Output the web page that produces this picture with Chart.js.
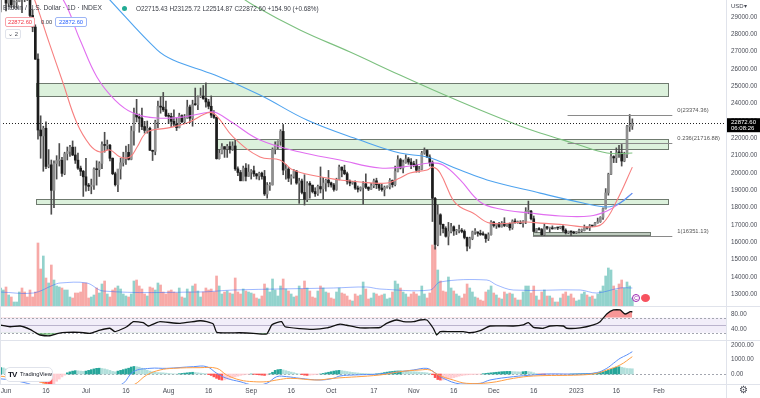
<!DOCTYPE html>
<html>
<head>
<meta charset="utf-8">
<script src="https://cdn.jsdelivr.net/npm/chart.js@4.4.0/dist/chart.umd.min.js"></script>
<style>
  html, body { margin: 0; padding: 0; background: #fff; }
  #wrap { position: relative; width: 760px; height: 398px; overflow: hidden; font-family: "Liberation Sans", Arial, sans-serif; }
  #chart { position: absolute; left: 0; top: 0; }
  .t { position: absolute; white-space: nowrap; color: #434651; line-height: 1; }
  .box { position: absolute; box-sizing: border-box; border-radius: 2px; font-size: 5.8px; line-height: 8px; text-align: center; background: #fff; }
</style>
</head>
<body>
<div id="wrap">
  <canvas id="chart" width="760" height="398"></canvas>

  <div class="t" style="left:3px;top:5px;font-size:6.7px;color:#3a3d46">Bitcoin / U.S. Dollar · 1D · INDEX</div>
  <div style="position:absolute;left:122px;top:5.5px;width:5px;height:5px;border-radius:50%;background:#22ab94"></div>
  <div class="t" style="left:136px;top:5.5px;font-size:6.4px;color:#3a3d46">O22715.43 H23125.72 L22514.87 C22872.60 +154.90 (+0.68%)</div>
  <div class="box" style="left:5px;top:17px;width:30px;height:10px;border:1px solid #f7a3aa;color:#f23645">22872.60</div>
  <div class="t" style="left:41px;top:19.5px;font-size:5.8px;color:#3a3d46">0.00</div>
  <div class="box" style="left:55px;top:17px;width:32px;height:10px;border:1px solid #9db5f5;color:#2962ff">22872.60</div>
  <div class="box" style="left:5px;top:29px;width:16px;height:10px;border:1px solid #e0e3eb;color:#434651">&#8964; 2</div>

  <div class="t" style="left:731px;top:3px;font-size:6px;color:#434651">USD&#9662;</div>

  <div style="position:absolute;left:5px;top:367px;width:48px;height:15px;box-sizing:border-box;border:1px solid #e0e3eb;border-radius:5px;background:#fff"></div>
  <div class="t" style="left:8px;top:370.5px;font-size:8px;font-weight:bold;color:#131722;letter-spacing:-1px">TV</div>
  <div class="t" style="left:20px;top:372px;font-size:5.8px;color:#131722">TradingView</div>
  <div class="t" style="left:739px;top:385px;font-size:10px;color:#434651">&#9881;</div>

  <div style="position:absolute;left:632px;top:294px;width:8px;height:8px;box-sizing:border-box;border:1px solid #9c27b0;border-radius:50%;background:#fff;font-size:5px;line-height:6px;text-align:center;color:#9c27b0">C</div>
  <div style="position:absolute;left:641px;top:294px;width:9px;height:8px;border-radius:50%;background:#f7525f"></div>
</div>
<script>
// daily candles from 2022-05-30, one row per day: open, high, low, close
const FIRST_DAY = '2022-05-30';
const ohlc = [
  // May 30-31
  [29440,31950,29300,31720],[31720,32250,31220,31790],
  // Jun
  [31790,31950,29350,29800],[29800,30630,29600,30450],[30450,30650,29530,29700],[29700,29950,29500,29860],[29860,30150,29500,29900],
  [29900,31700,29880,31370],[31370,31550,29250,31130],[31130,31320,29880,30200],[30200,30650,29950,30110],[30110,30300,28900,29090],
  [29090,29430,28150,28420],[28420,28550,26550,26570],[26570,26880,21950,22480],[22480,23300,20850,22140],[22140,22700,20100,22580],
  [22580,22950,20250,20380],[20380,21350,20300,20470],[20470,20750,17620,19000],[19000,20700,18000,20550],[20550,21000,19650,20720],
  [20720,21700,20400,20730],[20730,20900,19800,19980],[19980,21200,19900,21110],[21110,21500,20750,21240],[21240,21600,20950,21490],
  [21490,21850,21000,21040],[21040,21500,20550,20740],[20740,21150,20200,20280],[20280,20400,19850,20100],[20100,20150,18650,19780],
  // Jul
  [19780,20850,18950,19300],[19300,19400,18980,19230],[19230,19650,18800,19300],[19300,20300,19050,20230],[20230,20700,19300,20190],
  [20190,20650,19800,20550],[20550,21800,20250,21640],[21640,22350,21200,21590],[21590,21900,21350,21600],[21600,21650,20700,20850],
  [20850,20870,19900,19960],[19960,20050,19250,19330],[19330,20200,18920,20230],[20230,20850,19650,20590],[20590,21200,20400,20830],
  [20830,21550,20500,21190],[21190,21650,20750,20790],[20790,22700,20760,22430],[22430,23750,21600,23400],[23400,24250,22950,23230],
  [23230,23400,22350,23160],[23160,23750,22500,22680],[22680,22980,22300,22460],[22460,23000,22300,22580],[22580,22650,21300,21310],
  [21310,21320,20720,21250],[21250,23050,21050,22950],[22950,24150,22600,23840],[23840,24400,23450,23800],[23800,24650,23550,23650],
  [23650,24150,23250,23300],
  // Aug
  [23300,23450,22850,23270],[23270,23450,22680,22980],[22980,23650,22700,22820],[22820,23200,22450,22620],[22620,23450,22600,23310],
  [23310,23350,22900,22960],[22960,23380,22850,23180],[23180,24200,23150,23810],[23810,23920,22900,23160],[23160,24200,22700,23950],
  [23950,24900,23900,23940],[23940,24450,23650,24400],[24400,24900,24350,24440],[24440,25050,24250,24300],[24300,25200,23800,24100],
  [24100,24250,23700,23850],[23850,24450,23200,23340],[23340,23600,23150,23210],[23210,23220,20800,20830],[20830,21350,20800,21140],
  [21140,21700,21100,21520],[21520,21520,20900,21400],[21400,21650,20900,21530],[21530,21800,21150,21370],[21370,21800,21300,21560],
  [21560,21900,20150,20240],[20240,20350,19850,20030],[20030,20150,19550,19550],[19550,20400,19550,20280],[20280,20550,19550,19810],
  [19810,20480,19800,20050],
  // Sep
  [20050,20200,19650,20130],[20130,20400,19800,19950],[19950,19970,19650,19830],[19830,20050,19600,19990],[19990,20050,19650,19800],
  [19800,20150,18700,18790],[18790,19450,18550,19290],[19290,19450,19000,19320],[19320,21450,19300,21370],[21370,21800,21100,21650],
  [21650,21850,21400,21830],[21830,22500,21600,22400],[22400,22800,19900,20170],[20170,20500,19650,20230],[20230,20330,19500,19700],
  [19700,19900,19350,19800],[19800,20200,19700,20110],[20110,20150,19350,19420],[19420,19700,18250,19540],[19540,19650,18800,18880],
  [18880,19900,18150,18480],[18480,19500,18350,19400],[19400,19500,18550,19300],[19300,19300,18850,18930],[18930,19150,18650,18800],
  [18800,19300,18700,19220],[19220,20350,18850,19080],[19080,19750,18500,19420],[19420,19650,18950,19590],[19590,20150,19200,19430],
  // Oct
  [19430,19470,19180,19310],[19310,19400,18950,19050],[19050,19700,19000,19630],[19630,20450,19600,20340],[20340,20350,19780,20160],
  [20160,20450,19900,19960],[19960,20050,19350,19530],[19530,19600,19260,19420],[19420,19520,19350,19440],[19440,19550,19050,19130],
  [19130,19250,18900,19060],[19060,19200,18960,19160],[19160,19500,18200,19380],[19380,19950,19100,19180],[19180,19200,18980,19070],
  [19070,19400,19060,19270],[19270,19650,19150,19550],[19550,19700,19100,19330],[19330,19350,19000,19130],[19130,19350,18950,19040],
  [19040,19250,18680,19170],[19170,19260,19130,19210],[19210,19680,19080,19570],[19570,19600,19180,19330],[19330,20400,19250,20090],
  [20090,21000,20060,20770],[20770,20850,20230,20290],[20290,20750,20000,20600],[20600,21050,20560,20810],[20810,20900,20500,20630],
  [20630,20830,20250,20490],
  // Nov
  [20490,20680,20350,20480],[20480,20780,20050,20160],[20160,20380,20050,20210],[20210,21250,20180,21150],[21150,21450,21080,21300],
  [21300,21350,20900,20920],[20920,21050,20400,20600],[20600,20700,17200,18540],[18540,18600,15600,15880],[15880,18150,15800,17590],
  [17590,17650,16400,17040],[17040,17050,16550,16800],[16800,16900,16300,16350],[16350,17150,15850,16620],[16620,17100,16550,16900],
  [16900,16950,16400,16660],[16660,16750,16450,16690],[16690,17000,16550,16700],[16700,16800,16550,16630],[16630,16720,16200,16280],
  [16280,16300,15500,15780],[15780,16300,15650,16220],[16220,16650,16150,16600],[16600,16800,16450,16600],[16600,16600,16350,16520],
  [16520,16700,16400,16460],[16460,16600,16400,16440],[16440,16480,16000,16220],[16220,16550,16100,16440],[16440,17250,16420,17170],
  // Dec
  [17170,17200,16880,16970],[16970,17100,16800,17090],[17090,17150,16870,16890],[16890,17200,16880,17110],[17110,17420,16900,16970],
  [16970,17100,16920,17090],[17090,17120,16700,16840],[16840,17300,16750,17230],[17230,17350,17100,17130],[17130,17230,17100,17130],
  [17130,17250,17070,17090],[17090,17250,16880,17210],[17210,18000,17080,17780],[17780,18380,17650,17800],[17800,17850,17300,17360],
  [17360,17520,16600,16630],[16630,16800,16580,16780],[16780,16850,16700,16740],[16740,16800,16400,16440],[16440,17050,16400,16900],
  [16900,16920,16750,16820],[16820,16870,16600,16830],[16830,16950,16760,16780],[16780,16860,16770,16840],[16840,16870,16730,16830],
  [16830,16930,16780,16920],[16920,16960,16600,16700],[16700,16780,16480,16550],[16550,16650,16500,16630],[16630,16650,16351,16600],
  [16600,16640,16500,16540],
  // Jan
  [16540,16630,16500,16620],[16620,16770,16550,16680],[16680,16770,16600,16680],[16680,17000,16660,16850],[16850,16880,16760,16830],
  [16830,17030,16680,16950],[16950,16960,16900,16940],[16940,17160,16920,17120],[17120,17400,17100,17190],[17190,17480,17150,17440],
  [17440,17990,17320,17940],[17940,19100,17920,18850],[18850,19990,18720,19930],[19930,21250,19900,20950],[20950,21000,20600,20870],
  [20870,21450,20600,21170],[21170,21600,20900,21160],[21160,21650,20400,20690],[20690,21200,20650,21070],[21070,22750,20880,22680],
  [22680,23374.36,22400,22715.43],[22715.43,23125.72,22514.87,22872.60]
];

// daily volume (k BTC), same days as ohlc
const volume = [
  18,16,19,11,9,4,4,14,18,14,9,16,9,14,
  63,37,50,28,23,41,26,
  20,19,18,16,16,9,8,13,13,14,23,
  23,8,9,11,18,13,22,25,12,9,16,
  18,20,17,12,10,9,12,25,26,20,
  17,12,10,19,18,16,23,21,14,12,
  15,16,14,13,18,9,8,17,14,20,
  22,15,9,14,18,16,17,14,30,20,
  12,14,15,13,12,28,14,12,17,15,
  14,13,12,8,7,10,22,18,14,27,
  16,10,20,27,17,15,12,9,10,20,
  17,25,18,15,9,8,15,20,18,14,
  13,8,7,14,18,13,12,10,6,5,
  12,10,11,24,17,7,8,13,12,10,
  11,12,7,8,14,25,22,18,14,12,
  9,12,14,12,10,20,12,8,13,61,
  59,36,25,15,14,29,18,15,12,10,
  8,12,22,18,14,9,8,6,5,14,
  16,20,13,11,8,7,14,12,13,12,
  8,6,6,14,20,20,13,20,10,6,
  14,16,10,10,8,4,4,8,12,14,
  10,12,8,5,6,12,14,11,9,10,
  7,12,15,20,30,38,36,20,16,22,
  26,18,24,20,8
];

// MACD histogram, same days as ohlc
const macdHist = [
  450,420,350,280,200,120,60,-40,-80,-120,-150,-180,-200,-220,
  -420,-560,-620,-680,-720,-760,-700,
  -500,-350,-200,-80,80,150,200,230,220,200,180,
  200,250,300,350,390,400,380,350,300,250,180,
  150,200,250,300,350,400,480,520,500,470,
  400,330,260,200,150,120,100,90,80,60,
  40,20,10,0,20,40,60,80,100,120,
  100,80,60,40,20,-40,-100,-200,-300,-380,
  -420,-400,-350,-300,-250,-200,-150,-100,-60,-30,
  -10,0,-20,-40,-60,-80,-100,-60,20,120,
  250,300,320,280,230,180,130,90,40,0,
  -40,-80,-100,-80,-60,-40,-20,0,40,80,
  120,160,200,230,250,230,200,170,140,110,
  90,70,50,40,30,20,10,0,10,20,
  60,100,130,160,180,200,210,210,200,190,
  180,170,160,150,130,110,100,80,40,-50,
  -250,-380,-420,-410,-380,-340,-300,-250,-200,-150,
  -110,-80,-60,-50,-40,-30,-20,-10,20,40,
  60,80,100,120,140,160,170,180,180,170,
  160,150,140,160,180,170,140,80,30,-10,
  -20,-30,-30,-25,-20,-15,-10,-10,-10,-8,
  -5,0,5,10,15,20,25,30,40,50,
  60,80,120,160,200,260,330,400,470,500,
  460,420,380,370,360
];

// indicator lines: [day from Jun 1, value]
const maRed = [[4,32000],[9,30670],[16.5,27380],[21.4,25190],[26.6,22880],[31.5,21610],[35.3,21210],[39,21330],[42.8,20920],[46.5,20920],[49.2,21500],[52.9,22360],[60.4,22590],[67.9,22880],[75.4,23460],[77.7,23460],[80.3,23060],[85.2,22080],[95.3,20920],[102.8,20750],[107.7,20170],[120.5,19710],[132.8,19480],[143,19420],[147.8,19710],[151.6,20000],[158,20170],[160.2,20340],[162.9,20000],[167.7,18440],[170.4,18040],[175.2,17690],[181.6,17110],[195.5,17170],[200.4,17110],[210.5,17000],[219.1,16880],[224,17110],[229.3,18440],[235,20340]];
const maPink = [[10,31500],[20.3,30270],[27.8,27670],[34.1,25540],[40.9,24210],[47.7,23460],[56.7,23170],[66.4,23230],[76.5,23520],[79.2,23460],[85.2,22880],[95.3,21900],[110.3,21210],[125.3,20750],[140.3,20290],[151.6,20400],[159.1,20580],[164,20460],[170.4,19600],[177.9,18330],[185.4,17920],[196.6,17690],[207.9,17520],[219.1,17520],[225.5,17810],[229.3,18150],[235,18840]];
const maBlue = [[30,31500],[39,29980],[56.7,27100],[62.7,26520],[78.4,25650],[95.3,24500],[112.9,23060],[132.8,21900],[147.8,21150],[158,20920],[170.4,20170],[180.5,19600],[200.4,18840],[216.5,18270],[225.5,18040],[230.4,18270],[235,18840]];
const maGreen = [[85,30500],[92.7,29690],[110.3,28250],[129.1,26980],[147.8,25650],[162.9,24610],[177.9,23630],[192.9,22710],[200.4,22310],[212.8,21730],[225.5,21150],[235,21150]];
const volMA = [[-2.25,14],[10.3,13],[17.8,21],[20.3,23],[30.3,23],[36.5,15],[72.8,14],[85.3,16],[122.8,18],[135.3,19],[140.3,17],[159.1,16],[162.9,24],[180.4,26],[184.1,21],[190.3,16],[215.4,16],[221.6,13],[230.4,18],[235,18]];
const rsi = [[-2.25,50.7],[1.5,46],[5.3,48],[9,39],[11.5,28.5],[12.8,24],[16.5,22],[19.6,28.5],[22.8,31],[27.8,31],[31.5,28.5],[35.3,37],[39,42],[40.9,33],[45.3,46],[47.8,59.5],[51.5,57],[53.4,48],[55.9,55],[57.8,59.5],[65.3,55],[72.8,62],[75.3,59.5],[77.8,53],[79.1,31],[87.8,30],[92.8,28.5],[97.8,26.7],[99.7,50.7],[101.6,57],[103.4,59.5],[104.7,46],[110.3,41],[115.3,39],[120.3,43],[125.3,53],[127.8,50],[132.8,43],[140.3,44],[142.8,55],[146.6,64],[149.1,59.5],[152.9,59.5],[155.3,64],[157.9,64],[160.3,42],[161.6,24],[162.9,33],[166.6,33],[171.6,33],[174.1,30],[177.9,35.5],[181.6,48],[190.4,48],[194.1,51],[196,57],[197.9,44.5],[201.6,42],[204.1,48],[209.1,48],[210.4,42],[215.4,43],[220.4,51],[222.9,59.5],[225.4,80],[227.9,90.7],[230.4,90.7],[232.3,80],[234.2,86],[235,86]];
const macdLine = [[-2.25,-330],[2,-414],[8,-644],[10,-800],[15,-1500],[22,-1800],[32,-1300],[40,-900],[44,-644],[47.8,161],[54,391],[60.3,391],[70.3,506],[75.3,506],[79.1,46],[82.8,-299],[87.8,-529],[92.8,-759],[97.8,-644],[101.6,-184],[105.3,-184],[110.3,-299],[117.8,-414],[122.8,-299],[125.3,-138],[130.3,-69],[140.3,0],[147.8,161],[152.8,276],[157.9,391],[160.3,161],[164.1,-299],[170.4,-690],[177.9,-644],[181.6,-414],[190.4,-184],[197.9,-69],[202.9,0],[215.4,0],[221.6,92],[225.4,391],[227.9,736],[230.4,1080],[232.9,1310],[235,1540]];
const signalLine = [[-2.25,-150],[5,-300],[12,-500],[20,-1000],[30,-1300],[40,-1100],[47.8,-759],[52.8,-69],[57.8,276],[62.8,391],[72.8,437],[79.1,391],[82.8,-69],[87.8,-414],[92.8,-529],[97.8,-529],[101.6,-414],[106.6,-299],[116.6,-414],[122.8,-299],[140.3,-69],[147.8,161],[155.3,276],[159.1,276],[162.2,-69],[167.8,-414],[172.8,-644],[181.6,-598],[190.4,-299],[197.9,-138],[215.4,-69],[221.6,46],[225.4,276],[230.4,620],[235,1195]];

// drawn levels: [from day, to day, low, high]
const zones = [[11.3,248.4,24450,25200],[79.2,248.4,21380,21960],[11.3,248.4,18230,18500]];
const baseZone = [197.7,241.6,16400,16600];
const fibs = [['0(23374.36)',23374.36,210.7],['0.236(21716.88)',21716.88,210.7],['1(16351.13)',16351.13,197.7]];
const FIB_END = 250;
const lastPrice = 22872.60;
const countdown = '06:08:26';

const priceTicks = [13000,14000,15000,16000,17000,18000,19000,20000,21000,22000,23000,24000,25000,26000,27000,28000,29000];
const rsiTicks = [40, 80];
const rsiBand = [30, 70];
const macdTicks = [0, 1000, 2000];
const dateTicks = [['2022-06-01','Jun'],['2022-06-16','16'],['2022-07-01','Jul'],['2022-07-16','16'],['2022-08-01','Aug'],['2022-08-16','16'],
  ['2022-09-01','Sep'],['2022-09-16','16'],['2022-10-01','Oct'],['2022-10-17','17'],['2022-11-01','Nov'],['2022-11-16','16'],
  ['2022-12-01','Dec'],['2022-12-16','16'],['2023-01-01','2023'],['2023-01-16','16'],['2023-02-01','Feb']];

function dayOf(s) {
  return (Date.parse(s + 'T00:00:00Z') - Date.parse('2022-06-01T00:00:00Z')) / 864e5;
}
const day0 = dayOf(FIRST_DAY);
const days = ohlc.map((r, i) => day0 + i);
const isUp = ohlc.map(r => r[3] >= r[0]);
const tickLabel = {};
dateTicks.forEach(t => { tickLabel[dayOf(t[0])] = t[1]; });
const pts = arr => arr.map(p => ({x: p[0], y: p[1]}));

const histColors = macdHist.map((v, i) => {
  const prev = i ? macdHist[i - 1] : v;
  if (v >= 0) return v >= prev ? '#26a69a' : '#b2dfdb';
  return v < prev ? '#ff5252' : '#ffcdd2';
});

Chart.defaults.font.family = '"Liberation Sans", Arial, sans-serif';

function noPad(s) { s.paddingTop = 0; s.paddingBottom = 0; s.paddingLeft = 0; s.paddingRight = 0; }

const paneDecor = {
  id: 'paneDecor',
  beforeDatasetsDraw(chart) {
    const {ctx, chartArea: a, scales} = chart;
    const x = scales.x, y = scales.y, r = scales.yRsi, m = scales.yMacd;
    ctx.save();
    // RSI band and levels
    const bTop = r.getPixelForValue(rsiBand[1]), bBot = r.getPixelForValue(rsiBand[0]);
    ctx.fillStyle = 'rgba(126,87,194,0.1)';
    ctx.fillRect(a.left, bTop, a.width, bBot - bTop);
    ctx.lineWidth = 1;
    ctx.strokeStyle = '#a3a6af';
    ctx.setLineDash([2, 2]);
    [bTop, bBot].forEach(py => {
      ctx.beginPath(); ctx.moveTo(a.left, Math.round(py) + 0.5); ctx.lineTo(a.right, Math.round(py) + 0.5); ctx.stroke();
    });
    const z0 = Math.round(m.getPixelForValue(0)) + 0.5;
    ctx.beginPath(); ctx.moveTo(a.left, z0); ctx.lineTo(a.right, z0); ctx.stroke();
    ctx.setLineDash([]);
    ctx.strokeStyle = 'rgba(120,110,150,0.45)';
    const mid = Math.round(r.getPixelForValue(50)) + 0.5;
    ctx.beginPath(); ctx.moveTo(a.left, mid); ctx.lineTo(a.right, mid); ctx.stroke();

    // price zones
    const drawZone = (z, fill) => {
      const x0 = Math.round(x.getPixelForValue(z[0])) + 0.5, x1 = Math.round(x.getPixelForValue(z[1])) + 0.5;
      const y0 = Math.round(y.getPixelForValue(z[3])) + 0.5, y1 = Math.round(y.getPixelForValue(z[2])) + 0.5;
      ctx.fillStyle = fill;
      ctx.fillRect(x0, y0, x1 - x0, y1 - y0);
      ctx.strokeStyle = '#6f7a6f';
      ctx.strokeRect(x0, y0, x1 - x0, y1 - y0);
    };
    zones.forEach(z => drawZone(z, 'rgba(196,232,196,0.6)'));
    drawZone(baseZone, 'rgba(170,186,170,0.75)');
    ctx.restore();
  },
  afterDatasetsDraw(chart) {
    const {ctx, chartArea: a, scales} = chart;
    const x = scales.x, y = scales.y;
    ctx.save();
    // fib levels
    ctx.strokeStyle = '#8a8a8a';
    ctx.lineWidth = 1;
    ctx.fillStyle = '#555';
    ctx.font = '5.8px "Liberation Sans", Arial, sans-serif';
    ctx.textBaseline = 'bottom';
    const xe = x.getPixelForValue(FIB_END);
    fibs.forEach(f => {
      const py = Math.round(y.getPixelForValue(f[1])) + 0.5;
      ctx.beginPath(); ctx.moveTo(x.getPixelForValue(f[2]), py); ctx.lineTo(xe, py); ctx.stroke();
      ctx.fillText(f[0], xe + 5, py - 2);
    });
    // last price dotted line
    const lp = Math.round(y.getPixelForValue(lastPrice)) + 0.5;
    ctx.strokeStyle = '#222';
    ctx.setLineDash([1, 2]);
    ctx.beginPath(); ctx.moveTo(a.left, lp); ctx.lineTo(a.right, lp); ctx.stroke();
    ctx.restore();
  },
  afterDraw(chart) {
    const {ctx, chartArea: a, scales} = chart;
    const y = scales.y;
    ctx.save();
    ctx.strokeStyle = '#e0e3eb';
    ctx.lineWidth = 1;
    [scales.yRsi.top, scales.yMacd.top, a.bottom].forEach(py => {
      const yy = Math.round(py) + 0.5;
      ctx.beginPath(); ctx.moveTo(0, yy); ctx.lineTo(chart.width, yy); ctx.stroke();
    });
    ctx.beginPath(); ctx.moveTo(Math.round(a.right) + 0.5, 0); ctx.lineTo(Math.round(a.right) + 0.5, chart.height); ctx.stroke();
    ctx.beginPath(); ctx.moveTo(0.5, 0); ctx.lineTo(0.5, a.bottom); ctx.stroke();
    // last price tag
    const lp = y.getPixelForValue(lastPrice);
    ctx.fillStyle = '#000';
    ctx.fillRect(a.right + 1, lp - 5, chart.width - a.right - 1, 14);
    ctx.fillStyle = '#fff';
    ctx.font = '6px "Liberation Sans", Arial, sans-serif';
    ctx.textBaseline = 'middle';
    ctx.fillText(lastPrice.toFixed(2), a.right + 5, lp - 0.5);
    ctx.fillText(countdown, a.right + 5, lp + 5.5);
    ctx.restore();
  }
};

const tickFont = {size: 6.3};
const tickColor = '#4a4d57';

new Chart(document.getElementById('chart'), {
  type: 'bar',
  data: {
    datasets: [
      {
        type: 'bar', label: 'Volume', order: 9, yAxisID: 'yVol', grouped: false, barThickness: 2,
        data: volume.map((v, i) => ({x: days[i], y: v})),
        backgroundColor: isUp.map(u => u ? 'rgba(38,166,154,0.5)' : 'rgba(239,83,80,0.5)')
      },
      {
        type: 'line', label: 'Volume MA', order: 8, yAxisID: 'yVol', data: pts(volMA),
        borderColor: 'rgba(41,98,255,0.45)', borderWidth: 1, pointRadius: 0, tension: 0.35
      },
      {
        type: 'bar', label: 'Wick', order: 6, yAxisID: 'y', grouped: false, barThickness: 1,
        data: ohlc.map((r, i) => ({x: days[i], y: [r[2], r[1]]})),
        backgroundColor: '#4d4d4d'
      },
      {
        type: 'bar', label: 'Body', order: 5, yAxisID: 'y', grouped: false, barThickness: 2, minBarLength: 1,
        data: ohlc.map((r, i) => ({x: days[i], y: [r[0], r[3]]})),
        backgroundColor: isUp.map(u => u ? '#8f8f8f' : '#1c1c1c')
      },
      { type: 'line', label: 'MA200', order: 4, yAxisID: 'y', data: pts(maGreen), borderColor: '#7cc07f', borderWidth: 1.1, pointRadius: 0, tension: 0.4 },
      { type: 'line', label: 'MA100', order: 4, yAxisID: 'y', data: pts(maBlue), borderColor: '#4ea3ef', borderWidth: 1.1, pointRadius: 0, tension: 0.4 },
      { type: 'line', label: 'MA50', order: 4, yAxisID: 'y', data: pts(maPink), borderColor: '#e16ef0', borderWidth: 1.1, pointRadius: 0, tension: 0.4 },
      { type: 'line', label: 'MA20', order: 3, yAxisID: 'y', data: pts(maRed), borderColor: '#f77f7f', borderWidth: 1.1, pointRadius: 0, tension: 0.4 },
      {
        type: 'line', label: 'RSI', order: 2, yAxisID: 'yRsi', data: pts(rsi),
        borderColor: '#111', borderWidth: 1.3, pointRadius: 0, tension: 0.15,
        fill: {target: {value: rsiBand[1]}, above: 'rgba(242,80,80,0.6)', below: 'rgba(0,0,0,0)'}
      },
      {
        type: 'line', label: 'RSI low', order: 2, yAxisID: 'yRsi', data: pts(rsi),
        borderColor: 'rgba(0,0,0,0)', borderWidth: 1, pointRadius: 0, tension: 0.15,
        fill: {target: {value: rsiBand[0]}, above: 'rgba(0,0,0,0)', below: 'rgba(76,175,80,0.55)'}
      },
      {
        type: 'bar', label: 'Histogram', order: 2, yAxisID: 'yMacd', grouped: false, barThickness: 2,
        data: macdHist.map((v, i) => ({x: days[i], y: v})),
        backgroundColor: histColors
      },
      { type: 'line', label: 'Signal', order: 1, yAxisID: 'yMacd', data: pts(signalLine), borderColor: '#ff9f45', borderWidth: 1, pointRadius: 0, tension: 0.4 },
      { type: 'line', label: 'MACD', order: 1, yAxisID: 'yMacd', data: pts(macdLine), borderColor: '#5b8ff9', borderWidth: 1, pointRadius: 0, tension: 0.4 }
    ]
  },
  options: {
    responsive: false,
    animation: false,
    layout: {padding: 0},
    plugins: {legend: {display: false}, tooltip: {enabled: false}},
    scales: {
      x: {
        type: 'linear', min: -2.251, max: 270.14, offset: false,
        grid: {display: false, drawTicks: false}, border: {display: false},
        afterBuildTicks: s => { s.ticks = dateTicks.map(t => ({value: dayOf(t[0])})); },
        afterFit: s => { s.height = 14; noPad(s); },
        ticks: { autoSkip: false, maxRotation: 0, padding: 3, font: {size: 6.6}, color: tickColor,
                 callback: v => tickLabel[v] }
      },
      y: {
        type: 'linear', position: 'right', stack: 'panes', stackWeight: 306,
        min: 12327, max: 29981,
        grid: {display: false, drawTicks: false}, border: {display: false},
        afterBuildTicks: s => { s.ticks = priceTicks.map(v => ({value: v})); },
        afterFit: s => { s.width = 34; noPad(s); },
        ticks: { autoSkip: false, padding: 5, font: tickFont, color: tickColor, callback: v => v.toFixed(2) }
      },
      yRsi: {
        type: 'linear', position: 'right', stack: 'panes', stackWeight: 34,
        min: 10.7, max: 101.3,
        grid: {display: false, drawTicks: false}, border: {display: false},
        afterBuildTicks: s => { s.ticks = rsiTicks.map(v => ({value: v})); },
        afterFit: s => { s.width = 34; noPad(s); },
        ticks: { autoSkip: false, padding: 5, font: tickFont, color: tickColor, callback: v => v.toFixed(2) }
      },
      yMacd: {
        type: 'linear', position: 'right', stack: 'panes', stackWeight: 44,
        min: -690, max: 2345,
        grid: {display: false, drawTicks: false}, border: {display: false},
        afterBuildTicks: s => { s.ticks = macdTicks.map(v => ({value: v})); },
        afterFit: s => { s.width = 34; noPad(s); },
        ticks: { autoSkip: false, padding: 5, font: tickFont, color: tickColor, callback: v => v.toFixed(2) }
      },
      yVol: {
        type: 'linear', position: 'right', display: false,
        min: -78, max: 306
      }
    }
  },
  plugins: [paneDecor]
});
</script>
</body>
</html>
